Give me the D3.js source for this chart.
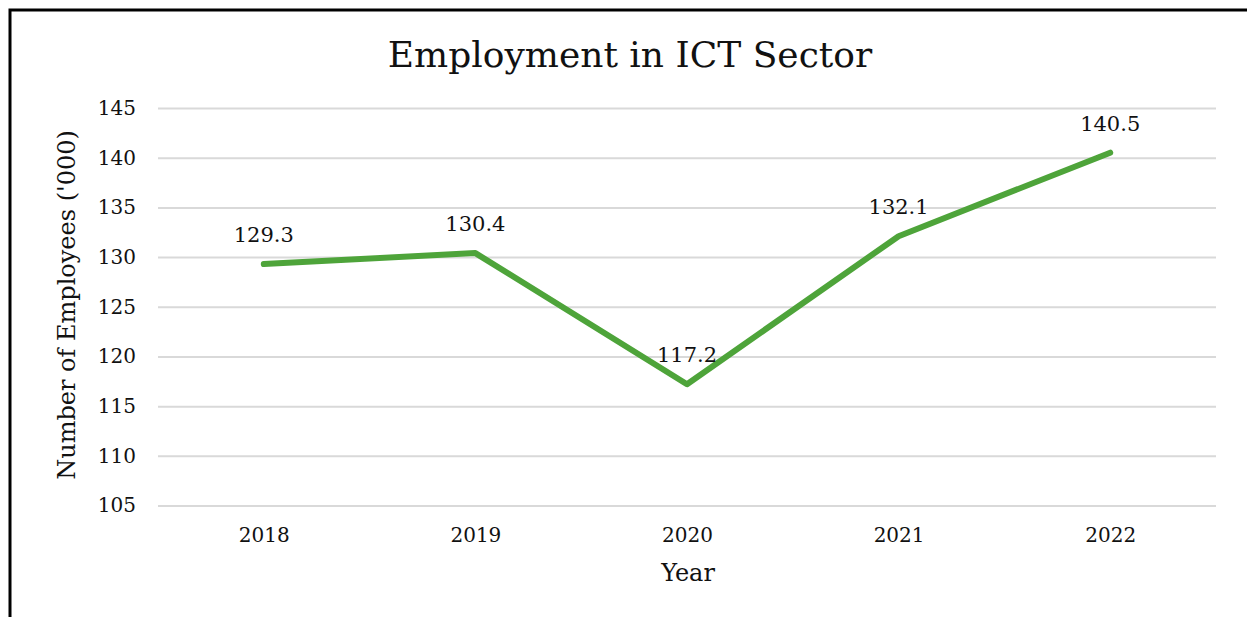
<!DOCTYPE html>
<html>
<head>
<meta charset="utf-8">
<script src="https://cdn.jsdelivr.net/npm/d3@7/dist/d3.min.js"></script>
<style>
  html, body { margin: 0; padding: 0; background: #fff; }
  svg { display: block; }
  text { font-family: "DejaVu Serif", "Liberation Serif", serif; fill: #111; }
</style>
</head>
<body>
<svg id="chart" width="1247" height="617"></svg>
<script>
// Employment in the ICT sector, thousands of employees
const years = ["2018", "2019", "2020", "2021", "2022"];
const employees = [129.3, 130.4, 117.2, 132.1, 140.5];
const yTicks = [105, 110, 115, 120, 125, 130, 135, 140, 145];

const svg = d3.select("#chart");
const W = 1247, H = 617;
const plot = { left: 158, right: 1216, top: 108, bottom: 505.5 };

// outer frame (extends past the right and bottom edges)
svg.append("rect")
  .attr("x", 10).attr("y", 10)
  .attr("width", W + 20).attr("height", H + 20)
  .attr("fill", "none").attr("stroke", "#000").attr("stroke-width", 3);

const x = d3.scalePoint().domain(years).range([plot.left, plot.right]).padding(0.5);
const y = d3.scaleLinear().domain([105, 145]).range([plot.bottom, plot.top]);

// horizontal gridlines + y tick labels
const yAxis = d3.axisLeft(y).tickValues(yTicks).tickSize(-(plot.right - plot.left)).tickPadding(22).tickFormat(d3.format("d"));
const gy = svg.append("g").attr("transform", `translate(${plot.left},0)`).call(yAxis);
gy.select(".domain").remove();
gy.selectAll(".tick line").attr("stroke", "#d9d9d9").attr("stroke-width", 2);
gy.selectAll(".tick text").attr("font-size", 20).attr("fill", "#111")
  .style("font-family", "'DejaVu Serif', serif");

// x tick labels
const xAxis = d3.axisBottom(x).tickSize(0).tickPadding(22);
const gx = svg.append("g").attr("transform", `translate(0,${plot.bottom})`).call(xAxis);
gx.select(".domain").remove();
gx.selectAll(".tick text").attr("font-size", 20).attr("fill", "#111")
  .style("font-family", "'DejaVu Serif', serif");

// data line
const line = d3.line().x((d, i) => x(years[i])).y(d => y(d));
svg.append("path")
  .datum(employees)
  .attr("d", line)
  .attr("fill", "none")
  .attr("stroke", "#4ea43a")
  .attr("stroke-width", 6)
  .attr("stroke-linejoin", "round")
  .attr("stroke-linecap", "round");

// value labels
svg.append("g").selectAll("text")
  .data(employees)
  .join("text")
  .attr("x", (d, i) => x(years[i]))
  .attr("y", d => y(d) - 22)
  .attr("text-anchor", "middle")
  .attr("font-size", 21)
  .text(d => d.toFixed(1));

// title
svg.append("text")
  .attr("x", 630).attr("y", 67)
  .attr("text-anchor", "middle")
  .attr("font-size", 36)
  .text("Employment in ICT Sector");

// axis titles
svg.append("text")
  .attr("x", 688).attr("y", 581)
  .attr("text-anchor", "middle")
  .attr("font-size", 24)
  .text("Year");

svg.append("text")
  .attr("transform", "translate(75,305) rotate(-90)")
  .attr("text-anchor", "middle")
  .attr("font-size", 24)
  .text("Number of Employees ('000)");
</script>
</body>
</html>
